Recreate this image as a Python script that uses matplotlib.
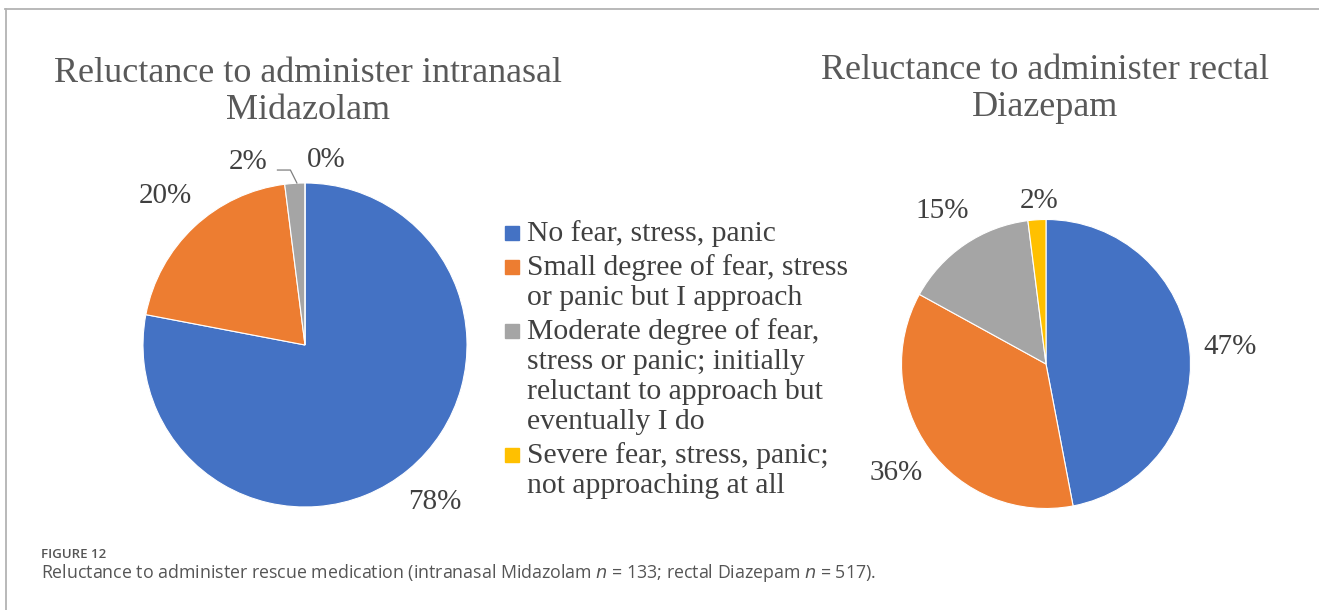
import matplotlib.pyplot as plt
import numpy as np
from matplotlib.lines import Line2D
from matplotlib.patches import Rectangle

# data
categories = ["No fear, stress, panic",
              "Small degree of fear, stress\nor panic but I approach",
              "Moderate degree of fear,\nstress or panic; initially\nreluctant to approach but\neventually I do",
              "Severe fear, stress, panic;\nnot approaching at all"]
midazolam_pct = [78, 20, 2, 0]
diazepam_pct = [47, 36, 15, 2]
colors = ["#4472C4", "#ED7D31", "#A5A5A5", "#FFC000"]

W, H = 1319, 610
fig = plt.figure(figsize=(W / 100, H / 100), dpi=100)
serif = "Liberation Serif"
txt_col = "#404040"


def px_axes(cx, cy, r):
    # square axes in pixel coordinates (y from top)
    return fig.add_axes([(cx - r) / W, (H - cy - r) / H, 2 * r / W, 2 * r / H])


def draw_pie(ax, vals, dist, overrides):
    wedges, _ = ax.pie(vals, colors=colors, startangle=90, counterclock=False,
                       wedgeprops=dict(edgecolor="white", linewidth=0.8))
    ax.set_xlim(-1, 1)
    ax.set_ylim(-1, 1)
    ax.axis("off")
    for i, (w, v) in enumerate(zip(wedges, vals)):
        ang = np.deg2rad((w.theta1 + w.theta2) / 2)
        x, y = dist * np.cos(ang), dist * np.sin(ang)
        if i in overrides:
            x, y = overrides[i]
        ax.text(x, y, f"{v}%", ha="center", va="center", fontsize=21,
                family=serif, color=txt_col, clip_on=False)
    return wedges


# left pie: intranasal Midazolam
ax1 = px_axes(305, 345, 162)
wedges = draw_pie(ax1, midazolam_pct, 1.26, {2: (-0.35, 1.13), 3: (0.13, 1.14)})
ax1.plot([-0.17, -0.09, -0.05], [1.08, 1.08, 1.0], color="#7f7f7f", lw=0.9, clip_on=False)

# right pie: rectal Diazepam
ax2 = px_axes(1046, 364, 144.5)
draw_pie(ax2, diazepam_pct, 1.28, {3: (-0.05, 1.13)})

# titles
fig.text(308 / W, 1 - 92 / H, "Reluctance to administer intranasal\nMidazolam", ha="center",
         va="center", fontsize=26, family=serif, color="#595959", linespacing=1.15)
fig.text(1045 / W, 1 - 89 / H, "Reluctance to administer rectal\nDiazepam", ha="center",
         va="center", fontsize=26, family=serif, color="#595959", linespacing=1.15)

# legend, drawn by hand so the square sits on the first line of each entry
line_h, gap, base = 30, 4, 241
for cat, col in zip(categories, colors):
    fig.add_artist(Rectangle((505 / W, 1 - (base - 1) / H), 14 / W, 14 / H,
                             transform=fig.transFigure, color=col))
    for j, line in enumerate(cat.split("\n")):
        fig.text(527 / W, 1 - (base + j * line_h) / H, line, ha="left", va="baseline",
                 fontsize=21.3, family=serif, color=txt_col)
    base += len(cat.split("\n")) * line_h + gap

# frame lines
fig.add_artist(Line2D([5 / W, 1], [1 - 9 / H, 1 - 9 / H], color="#b3b3b3", lw=1.3))
fig.add_artist(Line2D([6 / W, 6 / W], [0, 1 - 9 / H], color="#b3b3b3", lw=1.3))

# caption
fig.text(41 / W, 1 - 554 / H, "FIGURE 12", ha="left", va="center", fontsize=9.5,
         family="Open Sans", weight="semibold", color="#555555")
fig.text(41 / W, 1 - 573 / H,
         "Reluctance to administer rescue medication (intranasal Midazolam $\\it{n}$ = 133; "
         "rectal Diazepam $\\it{n}$ = 517).",
         ha="left", va="center", fontsize=12.8, family="Open Sans", color="#555555")

fig.savefig("out.png", dpi=100, facecolor="white")
